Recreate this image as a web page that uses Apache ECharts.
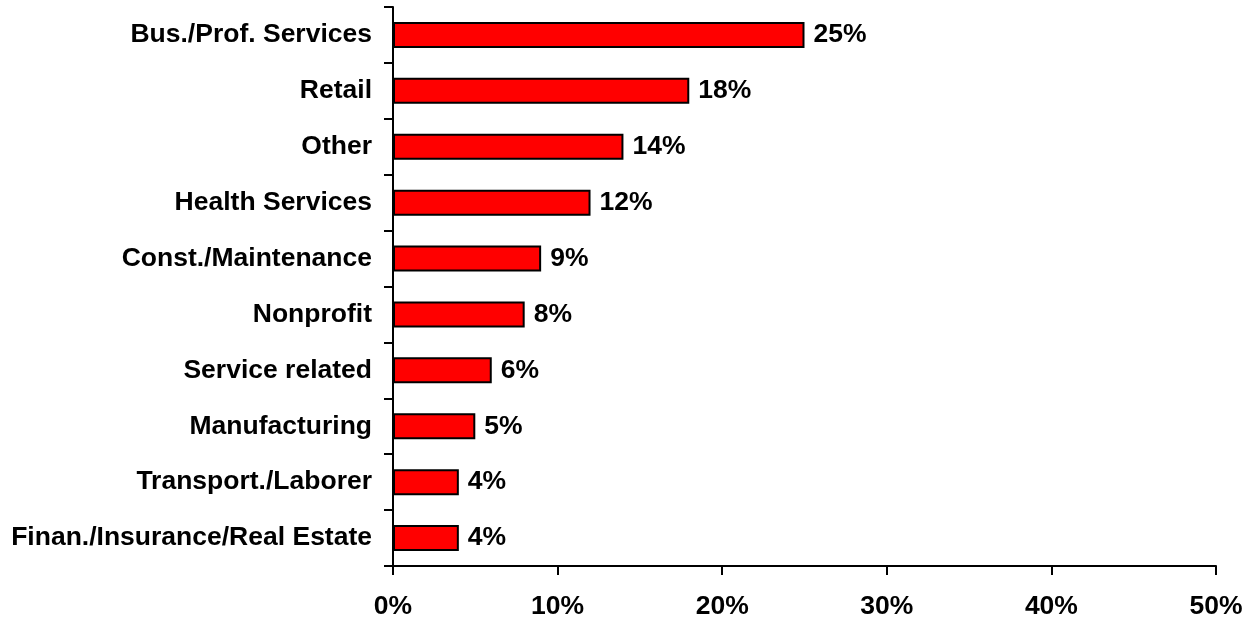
<!DOCTYPE html>
<html>
<head>
<meta charset="utf-8">
<script src="https://cdn.jsdelivr.net/npm/echarts@6/dist/echarts.min.js"></script>
<style>
  html, body { margin: 0; padding: 0; background: #fff; }
  #chart { width: 1257px; height: 622px; }
</style>
</head>
<body>
<div id="chart"></div>
<script>
// Industry categories, listed top to bottom
const categories = [
  'Bus./Prof. Services',
  'Retail',
  'Other',
  'Health Services',
  'Const./Maintenance',
  'Nonprofit',
  'Service related',
  'Manufacturing',
  'Transport./Laborer',
  'Finan./Insurance/Real Estate'
];
// Share of each category, in percent
const shares = [25, 18, 14, 12, 9, 8, 6, 5, 4, 4];
// Axis range, in percent
const axisMin = 0;
const axisMax = 50;
const axisStep = 10;

const chart = echarts.init(document.getElementById('chart'));
const font = 'Liberation Sans, Arial, sans-serif';
const textSize = 26.5;

chart.setOption({
  animation: false,
  grid: { left: 393, right: 41, top: 7, bottom: 56, containLabel: false },
  xAxis: {
    type: 'value',
    min: axisMin,
    max: axisMax,
    interval: axisStep,
    axisLine: { show: true, lineStyle: { color: '#000', width: 2 } },
    axisTick: { show: true, length: 9, lineStyle: { color: '#000', width: 2 } },
    splitLine: { show: false },
    axisLabel: {
      formatter: '{value}%',
      color: '#000',
      fontFamily: font,
      fontWeight: 'bold',
      fontSize: textSize,
      margin: 27
    }
  },
  yAxis: {
    type: 'category',
    data: categories,
    inverse: true,
    axisLine: { show: true, lineStyle: { color: '#000', width: 2 } },
    axisTick: { show: true, length: 9, lineStyle: { color: '#000', width: 2 } },
    axisLabel: {
      color: '#000',
      fontFamily: font,
      fontWeight: 'bold',
      fontSize: textSize,
      margin: 21
    }
  },
  series: [{
    type: 'bar',
    data: shares,
    barWidth: 26,
    itemStyle: { color: '#ff0000', borderColor: '#000', borderWidth: 2 },
    label: {
      show: true,
      position: 'right',
      distance: 9,
      formatter: '{c}%',
      color: '#000',
      fontFamily: font,
      fontWeight: 'bold',
      fontSize: textSize
    }
  }]
});
</script>
</body>
</html>
